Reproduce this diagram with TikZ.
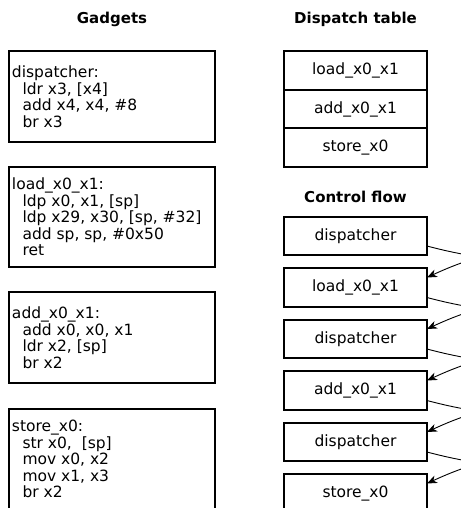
\documentclass[tikz,border=0pt]{standalone}
\usepackage{fontspec}
\setmainfont{DejaVu Sans}
\usepackage{tikz}
\usetikzlibrary{positioning}
\usetikzlibrary{arrows.meta}

\newcommand{\ind}{\hspace*{10.5pt}}
\newcommand{\codesize}{\fontsize{15.5}{16.5}\selectfont}
\tikzset{
  title/.style={font=\fontsize{15}{17}\selectfont\bfseries},
  gadget/.style={draw, line width=2pt, outer sep=0pt, align=flush left,
    text width=200pt, inner xsep=3pt, inner ysep=11pt, minimum height=91pt,
    execute at begin node={\codesize\spaceskip=0pt\xspaceskip=0pt\relax}},
  entry/.style={draw, line width=2pt, outer sep=0pt, minimum width=143pt,
    minimum height=38.5pt, font=\codesize},
  flow/.style={line width=0.9pt, -{Stealth[length=10pt,width=8pt,inset=3pt]}}
}

\begin{document}
\begin{tikzpicture}[x=1pt,y=-1pt]
    \useasboundingbox (0,0) rectangle (460,508);

    \node[title] (gtitle) at (112,19) {Gadgets};
    \node[title] (ttitle) at (355.5,19) {Dispatch table};
    \node[title] (ftitle) at (355.5,197) {Control flow};

    \node[gadget, anchor=north west] (gdisp) at (9,51)
      {dispatcher:\\ \ind ldr x3, [x4]\\ \ind add x4, x4, \#8\\ \ind br x3};
    \node[gadget, below=25pt of gdisp] (gload)
      {load\_x0\_x1:\\ \ind ldp x0, x1, [sp]\\ \ind ldp x29, x30, [sp, \#32]\\ \ind add sp, sp, \#0x50\\ \ind ret};
    \node[gadget, below=25pt of gload] (gadd)
      {add\_x0\_x1:\\ \ind add x0, x0, x1\\ \ind ldr x2, [sp]\\ \ind br x2};
    \node[gadget, below=26pt of gadd] (gstore)
      {store\_x0:\\ \ind str x0,\ \ [sp]\\ \ind mov x0, x2\\ \ind mov x1, x3\\ \ind br x2};

    \node[entry] (tload) at (355.5,70.5) {load\_x0\_x1};
    \node[entry, below=0pt of tload] (tadd) {add\_x0\_x1};
    \node[entry, below=0pt of tadd] (tstore) {store\_x0};

    \node[entry] (cf1) at (355.5,236) {dispatcher};
    \node[entry, below=13pt of cf1] (cf2) {load\_x0\_x1};
    \node[entry, below=13pt of cf2] (cf3) {dispatcher};
    \node[entry, below=13pt of cf3] (cf4) {add\_x0\_x1};
    \node[entry, below=13pt of cf4] (cf5) {dispatcher};
    \node[entry, below=13pt of cf5] (cf6) {store\_x0};

    \foreach \a/\b in {cf1/cf2, cf2/cf3, cf3/cf4, cf4/cf5, cf5/cf6}
      \draw[flow] ([yshift=-10pt]\a.east) to[out=-15,in=25,looseness=5.5] ([yshift=10pt]\b.east);
\end{tikzpicture}
\end{document}
